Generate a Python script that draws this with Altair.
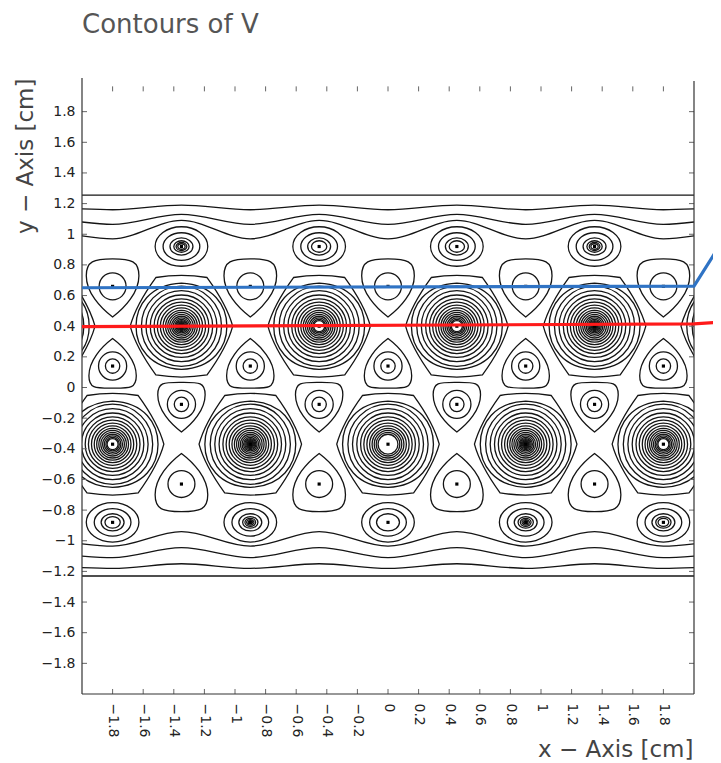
import altair as alt
import pandas as pd

# ---------------- data ----------------
tick_vals = [-1.8, -1.6, -1.4, -1.2, -1, -0.8, -0.6, -0.4, -0.2, 0,
             0.2, 0.4, 0.6, 0.8, 1, 1.2, 1.4, 1.6, 1.8]

chart_title = "Contours of V"
x_title = "x − Axis [cm]"
y_title = "y − Axis [cm]"

# big wires (many concentric contours)
big_top_x = [-2.25, -1.35, -0.45, 0.45, 1.35, 2.25]
big_top_y = 0.40
big_top_core = [0.25, 0.01, 0.03, 0.035, 0.01, 0.25]
big_bot_x = [-1.8, -0.9, 0.0, 0.9, 1.8]
big_bot_y = -0.37
big_bot_core = [0.03, 0.01, 0.065, 0.01, 0.03]
big_hex_r = [0.335]
big_round_r = [0.297]
big_ring_r = [0.262, 0.232, 0.204, 0.179, 0.158, 0.138, 0.12, 0.104, 0.09,
              0.077, 0.065, 0.054, 0.044, 0.036, 0.029, 0.023, 0.018, 0.014, 0.01]

# outer oval wires
ovA_top_x = [-1.35, -0.45, 0.45, 1.35]
ovA_top_y = 0.92
ovA_top_n = [6, 4, 4, 6]
ovA_bot_x = [-1.8, -0.9, 0.0, 0.9, 1.8]
ovA_bot_y = -0.88
ovA_bot_n = [4, 7, 3, 7, 5]
oval_r = [0.172, 0.12, 0.075, 0.05, 0.035, 0.024, 0.014]

# wires with rounded-triangle contours
triB_top_x = [-1.8, -0.9, 0.0, 0.9, 1.8]
triB_top_y = 0.66
triB_bot_x = [-1.35, -0.45, 0.45, 1.35]
triB_bot_y = -0.63
triB_r = 0.2
circB_r = [0.088]
triC_top_x = [-1.8, -0.9, 0.0, 0.9, 1.8]
triC_top_y = 0.14
triC_bot_x = [-1.35, -0.45, 0.45, 1.35]
triC_bot_y = -0.11
triC_r = 0.18
circC_r = [0.092, 0.047]

# long wavy contours near the planes
wave_x = [-2.0, -1.8, -1.35, -0.9, -0.45, 0.0, 0.45, 0.9, 1.35, 1.8, 2.0]
wave_top2 = [1.165, 1.16, 1.19, 1.16, 1.19, 1.16, 1.19, 1.16, 1.19, 1.16, 1.165]
wave_top3 = [1.08, 1.065, 1.13, 1.065, 1.13, 1.065, 1.13, 1.065, 1.13, 1.065, 1.08]
wave_top4 = [0.99, 0.97, 1.09, 0.97, 1.09, 0.97, 1.09, 0.97, 1.09, 0.97, 0.99]
wave_bot2 = [-1.175, -1.18, -1.15, -1.18, -1.15, -1.18, -1.15, -1.18, -1.15, -1.18, -1.175]
wave_bot3 = [-1.10, -1.11, -1.045, -1.11, -1.045, -1.11, -1.045, -1.11, -1.045, -1.11, -1.10]
wave_bot4 = [-1.02, -1.035, -0.94, -1.035, -0.94, -1.035, -0.94, -1.035, -0.94, -1.035, -1.02]
plane_top = 1.255
plane_bot = -1.23

# highlighted lines
blue_x = [-2.0, 2.0, 2.17]
blue_y = [0.651, 0.662, 0.93]
red_x = [-2.0, 2.0, 2.17]
red_y = [0.397, 0.415, 0.427]

# ---------------- styles ----------------
W, H = 612, 613
PX = 153.0
INK = "#141414"
SW = 1.3
FONT = "DejaVu Sans"

HEX = ("M -1 0 C -0.92 -0.3 -0.74 -0.62 -0.5 -0.95 C -0.2 -1.0 0.2 -1.0 0.5 -0.95 "
       "C 0.74 -0.62 0.92 -0.3 1 0 C 0.92 0.3 0.74 0.62 0.5 0.95 C 0.2 1.0 -0.2 1.0 -0.5 0.95 "
       "C -0.74 0.62 -0.92 0.3 -1 0 Z")
RHEX = ("M -1 0 C -1 -0.45 -0.7 -0.92 0 -0.95 C 0.7 -0.92 1 -0.45 1 0 "
        "C 1 0.45 0.7 0.92 0 0.95 C -0.7 0.92 -1 0.45 -1 0 Z")
ELL = ("M 1 0 C 1 0.414 0.552 0.75 0 0.75 C -0.552 0.75 -1 0.414 -1 0 "
       "C -1 -0.414 -0.552 -0.75 0 -0.75 C 0.552 -0.75 1 -0.414 1 0 Z")


def tri(top, sgn):
    s = sgn
    return (f"M 0 {-top*s} C 0.62 {-top*s} 0.86 {-0.82*s} 0.86 {-0.35*s} "
            f"C 0.86 {0.2*s} 0.4 {0.7*s} 0 {1*s} C -0.4 {0.7*s} -0.86 {0.2*s} -0.86 {-0.35*s} "
            f"C -0.86 {-0.82*s} -0.62 {-top*s} 0 {-top*s} Z")


TRI_DOWN_B = tri(0.9, 1)
TRI_UP_B = tri(0.9, -1)
TRI_DOWN_C = tri(0.8, 1)
TRI_UP_C = tri(0.8, -1)

# ---------------- tables ----------------
rows = {k: [] for k in ["circle", "hex", "rhex", "ell", "tdB", "tuB", "tdC", "tuC"]}
dots = []


def add_big(xlist, y_, cores):
    for x, core in zip(xlist, cores):
        for r in big_hex_r:
            rows["hex"].append({"x": x, "y": y_, "r": r})
        for r in big_round_r:
            rows["rhex"].append({"x": x, "y": y_, "r": r})
        for r in big_ring_r:
            if r >= core:
                rows["circle"].append({"x": x, "y": y_, "r": r})
        dots.append({"x": x, "y": y_})


add_big(big_top_x, big_top_y, big_top_core)
add_big(big_bot_x, big_bot_y, big_bot_core)

for xs_, y_, ns_ in [(ovA_top_x, ovA_top_y, ovA_top_n), (ovA_bot_x, ovA_bot_y, ovA_bot_n)]:
    for x, n in zip(xs_, ns_):
        for r in oval_r[:n]:
            rows["ell"].append({"x": x, "y": y_, "r": r})
        dots.append({"x": x, "y": y_})

for xl, y_, key, rt, circ in [(triB_top_x, triB_top_y, "tdB", triB_r, circB_r),
                              (triB_bot_x, triB_bot_y, "tuB", triB_r, circB_r),
                              (triC_top_x, triC_top_y, "tuC", triC_r, circC_r),
                              (triC_bot_x, triC_bot_y, "tdC", triC_r, circC_r)]:
    for x in xl:
        rows[key].append({"x": x, "y": y_, "r": rt})
        for r in circ:
            rows["circle"].append({"x": x, "y": y_, "r": r})
        dots.append({"x": x, "y": y_})

wave_rows = []
for name, ys_ in [("t2", wave_top2), ("t3", wave_top3), ("t4", wave_top4),
                  ("b2", wave_bot2), ("b3", wave_bot3), ("b4", wave_bot4)]:
    for x, y in zip(wave_x, ys_):
        wave_rows.append({"id": name, "x": x, "y": y})
for name, yv in [("p1", plane_top), ("p2", plane_bot)]:
    wave_rows.append({"id": name, "x": -2.0, "y": yv})
    wave_rows.append({"id": name, "x": 2.0, "y": yv})

TL = 5.0 / PX
tick_rows = []
for v in tick_vals:
    tick_rows.append({"x1": -2.0, "x2": -2.0 + TL, "y1": v, "y2": v})
    tick_rows.append({"x1": 2.0, "x2": 2.0 - TL, "y1": v, "y2": v})
    tick_rows.append({"x1": v, "x2": v, "y1": -2.0, "y2": -2.0 + TL})
    tick_rows.append({"x1": v, "x2": v, "y1": 2.0 - 0.035, "y2": 2.0 - 0.035 - TL})

border_rows = [
    {"x1": -2.0, "x2": -2.0, "y1": -2.0, "y2": 2.02},
    {"x1": 2.0, "x2": 2.0, "y1": -2.0, "y2": 2.0},
    {"x1": -2.0, "x2": 2.0, "y1": -2.0, "y2": -2.0},
]

hl_rows = ([{"id": "blue", "o": i, "x": x, "y": y} for i, (x, y) in enumerate(zip(blue_x, blue_y))] +
           [{"id": "red", "o": i, "x": x, "y": y} for i, (x, y) in enumerate(zip(red_x, red_y))])

# ---------------- scales / axes ----------------
xs = alt.Scale(domain=[-2, 2], nice=False, zero=False)
ys = alt.Scale(domain=[-2, 2], nice=False, zero=False)
rs = alt.Scale(type="pow", exponent=2, domain=[0, 1], range=[0, (2 * PX) ** 2], zero=True)

xaxis = alt.Axis(values=tick_vals, format="~g", labelAngle=90, labelAlign="left",
                 labelBaseline="middle", labelFont=FONT, labelFontSize=14,
                 labelColor="#222", labelPadding=9, labelOverlap=False, labelFlush=False,
                 ticks=False, domain=False, grid=False,
                 title=x_title, titleFont=FONT, titleFontSize=23,
                 titleFontWeight="normal", titleColor="#444", titleAlign="right",
                 titleBaseline="alphabetic", titleX=611, titleY=62, titleAngle=0)
yaxis = alt.Axis(values=tick_vals, format="~g", labelFont=FONT, labelFontSize=14,
                 labelColor="#222", labelPadding=7, labelOverlap=False, labelFlush=False,
                 ticks=False, domain=False, grid=False,
                 title=y_title, titleFont=FONT, titleFontSize=23,
                 titleFontWeight="normal", titleColor="#444", titleAlign="right",
                 titleBaseline="alphabetic", titleAngle=-90, titleX=-50, titleY=-3)


def X(f):
    return alt.X(f, type="quantitative", scale=xs, axis=xaxis)


def Y(f):
    return alt.Y(f, type="quantitative", scale=ys, axis=yaxis)


def rings(key, shape):
    return alt.Chart(pd.DataFrame(rows[key])).mark_point(
        shape=shape, filled=False, stroke=INK, strokeWidth=SW, opacity=1, clip=True
    ).encode(x=X("x"), y=Y("y"), size=alt.Size("r:Q", scale=rs, legend=None))


layers = [
    rings("circle", "circle"),
    rings("hex", HEX),
    rings("rhex", RHEX),
    rings("ell", ELL),
    rings("tdB", TRI_DOWN_B),
    rings("tuB", TRI_UP_B),
    rings("tdC", TRI_DOWN_C),
    rings("tuC", TRI_UP_C),
    alt.Chart(pd.DataFrame(dots)).mark_square(size=10, color="#000", opacity=1, clip=True)
    .encode(x=X("x"), y=Y("y")),
    alt.Chart(pd.DataFrame(wave_rows)).mark_line(interpolate="monotone", color=INK,
                                                  strokeWidth=SW, clip=True)
    .encode(x=X("x"), y=Y("y"), detail="id:N"),
    alt.Chart(pd.DataFrame(tick_rows)).mark_rule(color="#666", strokeWidth=1)
    .encode(x=X("x1"), x2="x2", y=Y("y1"), y2="y2"),
    alt.Chart(pd.DataFrame(border_rows)).mark_rule(color="#333", strokeWidth=1.2)
    .encode(x=X("x1"), x2="x2", y=Y("y1"), y2="y2"),
    alt.Chart(pd.DataFrame(hl_rows)).mark_line(strokeWidth=3.2, clip=False)
    .encode(x=X("x"), y=Y("y"), detail="id:N", order="o:Q",
            color=alt.Color("id:N", scale=alt.Scale(domain=["blue", "red"],
                                                     range=["#2f73c4", "#ff1a1a"]),
                            legend=None)),
    alt.Chart(pd.DataFrame({"t": [chart_title]})).mark_text(
        align="left", baseline="alphabetic", font=FONT, fontSize=26, color="#555", clip=False
    ).encode(x=alt.value(0), y=alt.value(-48), text="t:N"),
]

chart = alt.layer(*layers).properties(
    width=W, height=H,
    autosize=alt.AutoSizeParams(type="none"),
    padding={"left": 74, "top": 73, "right": 19, "bottom": 67},
).configure_view(stroke=None)

chart.save("out.html", embed_options={"renderer": "svg", "actions": False})
